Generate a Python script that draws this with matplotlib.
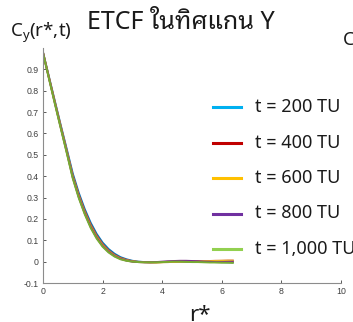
"""ETCF along the Y axis: C_y(r*, t) for five sampling times."""

import matplotlib

matplotlib.use("Agg")
import matplotlib.pyplot as plt
from matplotlib.lines import Line2D

plt.rcParams["font.family"] = ["Noto Sans Thai Looped", "DejaVu Sans"]

# r* grid (step 0.2, 0 .. 6.4)
r_star = [0.0, 0.2, 0.4, 0.6, 0.8, 1.0, 1.2, 1.4, 1.6, 1.8, 2.0, 2.2, 2.4,
          2.6, 2.8, 3.0, 3.2, 3.4, 3.6, 3.8, 4.0, 4.2, 4.4, 4.6, 4.8, 5.0,
          5.2, 5.4, 5.6, 5.8, 6.0, 6.2, 6.4]

c_200 = [0.980, 0.865, 0.750, 0.636, 0.525, 0.412, 0.322, 0.246, 0.182,
         0.130, 0.089, 0.059, 0.037, 0.021, 0.011, 0.004, 0.000, -0.002,
         -0.003, -0.003, -0.002, -0.002, -0.001, 0.000, 0.000, 0.001,
         0.001, 0.000, -0.001, -0.002, -0.002, -0.003, -0.003]
c_400 = [0.979, 0.862, 0.746, 0.631, 0.518, 0.402, 0.312, 0.236, 0.172,
         0.121, 0.081, 0.052, 0.031, 0.017, 0.008, 0.002, -0.001, -0.002,
         -0.003, -0.003, -0.002, -0.001, 0.000, 0.001, 0.001, 0.001,
         0.002, 0.002, 0.003, 0.004, 0.004, 0.005, 0.005]
c_600 = [0.978, 0.860, 0.743, 0.627, 0.513, 0.396, 0.305, 0.229, 0.165,
         0.115, 0.076, 0.048, 0.028, 0.014, 0.006, 0.001, -0.002, -0.003,
         -0.004, -0.004, -0.003, -0.002, -0.001, 0.000, 0.001, 0.001,
         0.001, 0.002, 0.002, 0.003, 0.004, 0.004, 0.004]
c_800 = [0.978, 0.859, 0.741, 0.625, 0.511, 0.393, 0.302, 0.226, 0.162,
         0.112, 0.073, 0.046, 0.026, 0.013, 0.005, 0.000, -0.002, -0.003,
         -0.003, -0.002, 0.000, 0.002, 0.003, 0.004, 0.004, 0.003,
         0.002, 0.000, -0.001, -0.002, -0.002, -0.001, 0.000]
c_1000 = [0.977, 0.857, 0.738, 0.622, 0.507, 0.389, 0.298, 0.222, 0.158,
          0.108, 0.070, 0.043, 0.024, 0.011, 0.004, 0.000, -0.002, -0.003,
          -0.003, -0.003, -0.002, -0.001, 0.000, 0.000, -0.001, -0.002,
          -0.002, -0.003, -0.004, -0.004, -0.005, -0.005, -0.006]

series = [c_200, c_400, c_600, c_800, c_1000]
labels = ["t = 200 TU", "t = 400 TU", "t = 600 TU", "t = 800 TU",
          "t = 1,000 TU"]
line_colors = ["#0072BD", "#D95319", "#EDB120", "#7E2F8E", "#77AC30"]
legend_colors = ["#00B0F0", "#C00000", "#FFC000", "#7030A0", "#92D050"]

x_ticks = [0, 2, 4, 6, 8, 10]
y_ticks = [-0.1, 0.0, 0.1, 0.2, 0.3, 0.4, 0.5, 0.6, 0.7, 0.8, 0.9]
y_tick_labels = ["-0.1", "0", "0.1", "0.2", "0.3", "0.4", "0.5", "0.6",
                 "0.7", "0.8", "0.9"]

W, H = 353, 322
fig = plt.figure(figsize=(W / 100, H / 100), dpi=100)
ax = fig.add_axes([0.1218, 0.1211, 0.8442, 0.7298])

for values, color in zip(series, line_colors, strict=True):
    ax.plot(r_star, values, color=color, linewidth=1.4, solid_capstyle="butt")

ax.set_xlim(0, 10)
ax.set_ylim(-0.1, 1.0)
ax.set_xticks(x_ticks)
ax.set_xticklabels([str(t) for t in x_ticks])
ax.set_yticks(y_ticks)
ax.set_yticklabels(y_tick_labels)
ax.tick_params(direction="in", length=2.5, width=0.6, colors="#404040",
               labelsize=6.3, pad=3)
for lab in ax.get_xticklabels() + ax.get_yticklabels():
    lab.set_family(["Liberation Sans", "DejaVu Sans"])
for side in ("top", "right"):
    ax.spines[side].set_visible(False)
for side in ("left", "bottom"):
    ax.spines[side].set_color("#8c8c8c")
    ax.spines[side].set_linewidth(0.8)

# legend drawn as a separate overlay (rows ~35.5 px apart)
for i, (label, color) in enumerate(zip(labels, legend_colors, strict=True)):
    y = 1 - (107 + 35.5 * i) / H
    fig.add_artist(Line2D([213 / W, 241 / W], [y, y], color=color,
                          linewidth=2.2, transform=fig.transFigure))
    fig.text(255 / W, y, label, fontsize=13, ha="left", va="center",
             color="#1a1a1a")

fig.text(0.513, 0.930, "ETCF ในทิศแกน Y", fontsize=18, ha="center",
         va="center", color="#1a1a1a")
fig.text(0.117, 0.898, r"C$_\mathregular{y}$(r*,t)", fontsize=13.5,
         ha="center", va="center", color="#1a1a1a")
fig.text(0.972, 0.876, "C", fontsize=13.5, ha="left", va="center",
         color="#1a1a1a")
fig.text(0.565, 0.052, "r*", fontsize=16, ha="center", va="top",
         color="#1a1a1a")

fig.savefig("out.png", dpi=100)
plt.close(fig)
